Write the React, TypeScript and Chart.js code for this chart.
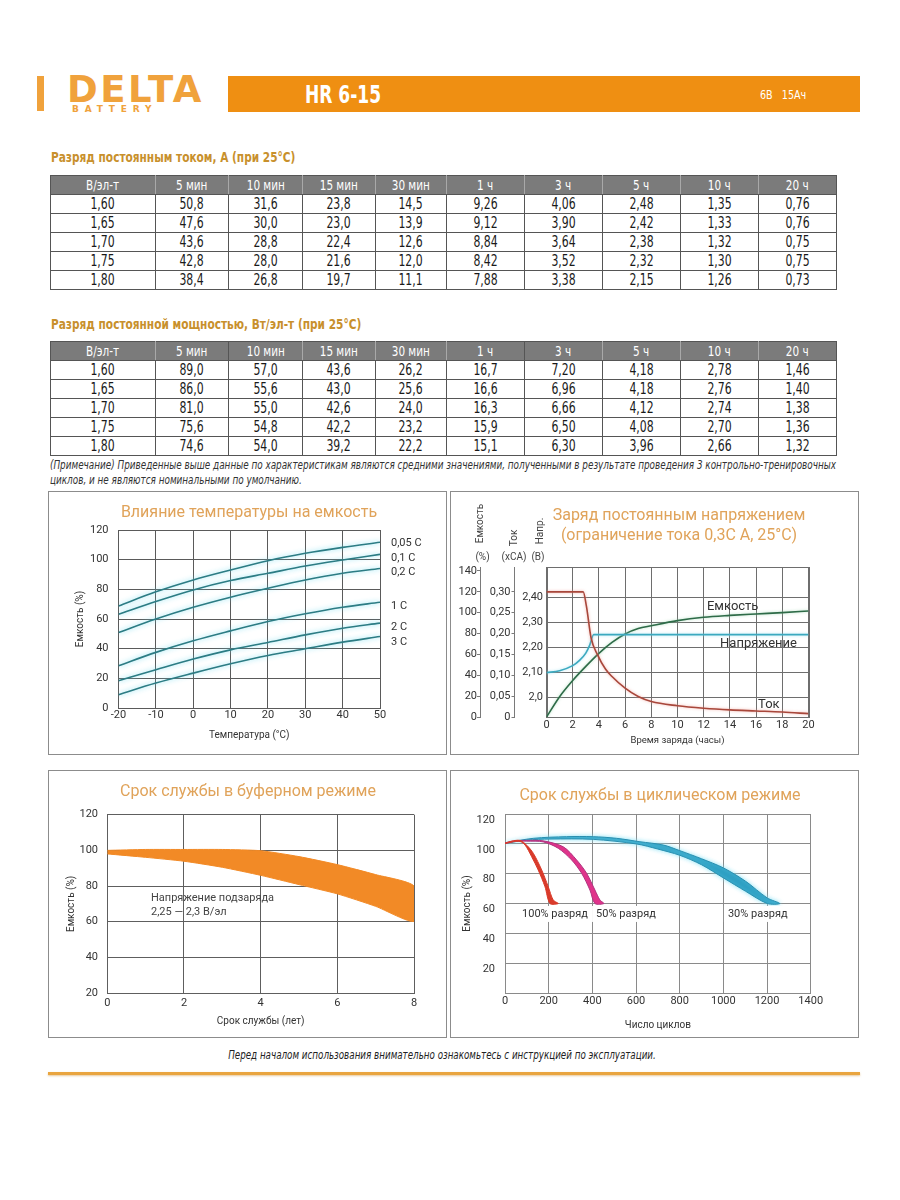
import React, { useEffect, useRef } from 'react';
import { Chart, registerables } from 'chart.js';

// ================= DATA =================
const tableHeaders = ['В/эл-т', '5 мин', '10 мин', '15 мин', '30 мин', '1 ч', '3 ч', '5 ч', '10 ч', '20 ч'];
const endVoltages = ['1,60', '1,65', '1,70', '1,75', '1,80'];
const currentValues = [
  ['50,8', '31,6', '23,8', '14,5', '9,26', '4,06', '2,48', '1,35', '0,76'],
  ['47,6', '30,0', '23,0', '13,9', '9,12', '3,90', '2,42', '1,33', '0,76'],
  ['43,6', '28,8', '22,4', '12,6', '8,84', '3,64', '2,38', '1,32', '0,75'],
  ['42,8', '28,0', '21,6', '12,0', '8,42', '3,52', '2,32', '1,30', '0,75'],
  ['38,4', '26,8', '19,7', '11,1', '7,88', '3,38', '2,15', '1,26', '0,73'],
];
const powerValues = [
  ['89,0', '57,0', '43,6', '26,2', '16,7', '7,20', '4,18', '2,78', '1,46'],
  ['86,0', '55,6', '43,0', '25,6', '16,6', '6,96', '4,18', '2,76', '1,40'],
  ['81,0', '55,0', '42,6', '24,0', '16,3', '6,66', '4,12', '2,74', '1,38'],
  ['75,6', '54,8', '42,2', '23,2', '15,9', '6,50', '4,08', '2,70', '1,36'],
  ['74,6', '54,0', '39,2', '22,2', '15,1', '6,30', '3,96', '2,66', '1,32'],
];

// Chart 1: temperature vs capacity
const tempX = [-20, -10, 0, 10, 20, 30, 40, 50];
const cap005C = [68.8, 78.3, 86.3, 93, 99.3, 104.3, 108.3, 111.7];
const cap01C = [63.2, 71.8, 79.6, 85.9, 90.8, 95.7, 99.8, 103.6];
const cap02C = [50.9, 60, 67.9, 74.7, 80.7, 86.3, 90.8, 94];
const cap1C = [28.5, 37.5, 45.3, 52, 58.3, 63.5, 67.9, 71.3];
const cap2C = [18.4, 25.8, 33, 39.2, 44.2, 49.3, 53.8, 57.2];
const cap3C = [9, 16.8, 23.5, 29.8, 35.4, 39.9, 44.4, 48.2];
const tempSeriesNames = ['0,05 C', '0,1 C', '0,2 C', '1 C', '2 C', '3 C'];
const tempNameLevels = [111.2, 101.1, 91.7, 68.8, 54.6, 44.5];

// Chart 2: constant voltage charge
const chargeCapHours = [0, 1, 2, 3, 4, 5, 6, 7, 8, 10, 12, 14, 16, 18, 20];
const chargeCapValues = [0, 19.5, 35, 48.5, 61, 71.5, 79.6, 84.8, 87.5, 92.4, 95.6, 97.4, 98.8, 100.1, 101.6];
const chargeVoltHours = [0, 1, 2, 2.5, 3, 3.3, 3.6, 20];
const chargeVoltValues = [2.1, 2.108, 2.128, 2.148, 2.178, 2.21, 2.252, 2.252];
const chargeCurHours = [0, 2.8, 3.05, 3.4, 3.9, 4.5, 5, 6, 7, 8, 10, 12, 14, 16, 18, 20];
const chargeCurValues = [0.3, 0.3, 0.265, 0.19, 0.149, 0.115, 0.097, 0.069, 0.049, 0.037, 0.027, 0.021, 0.017, 0.0145, 0.012, 0.008];
const capTicks = [0, 20, 40, 60, 80, 100, 120, 140];
const curTicks = [0, 0.05, 0.1, 0.15, 0.2, 0.25, 0.3];
const voltTicks = [2.0, 2.1, 2.2, 2.3, 2.4];

// Chart 3: float service life
const floatYears = [0, 1, 2, 3, 4, 5, 6, 7, 8];
const floatUpper = [100, 100.5, 100.5, 100.5, 99.8, 96.5, 92, 86.4, 80];
const floatLower = [98, 96.1, 93.9, 90.5, 86, 80.8, 75.6, 68.6, 60.2];

// Chart 4: cycle service life (band edges)
const dod100OuterX = [0, 30, 69, 100, 130, 168, 198, 221, 244];
const dod100OuterY = [100.5, 101.8, 102.3, 99, 93.6, 82.5, 71.3, 62.3, 60];
const dod100InnerX = [0, 40, 69, 92, 122, 152, 183, 206];
const dod100InnerY = [100.2, 101.4, 101.6, 99.2, 91.4, 82.5, 71.3, 60];
const dod50OuterX = [0, 40, 100, 175, 267, 328, 374, 412, 435, 453];
const dod50OuterY = [100.5, 102, 102.3, 102, 98, 89.2, 80.2, 69, 62.3, 60];
const dod50InnerX = [0, 40, 100, 175, 244, 305, 351, 389, 412];
const dod50InnerY = [100.2, 101.6, 101.8, 101.3, 97, 89.2, 80.2, 69, 60];
const dod30OuterX = [0, 130, 282, 404, 511, 618, 725, 801, 900, 1001, 1102, 1201, 1259];
const dod30OuterY = [100.6, 103.7, 104.8, 104.8, 103.7, 101.4, 99.2, 95.4, 90, 83.8, 74.9, 63.7, 60];
const dod30InnerX = [0, 100, 206, 404, 603, 700, 801, 900, 1001, 1102, 1201];
const dod30InnerY = [100.3, 102.5, 103.2, 103, 99.9, 96.5, 92.3, 86, 77.1, 68.2, 60];

// ================= STYLE =================
const NARROW = '"Liberation Sans Narrow", "DejaVu Sans Condensed", "Arial Narrow", sans-serif';
const SANS = 'Roboto, "Open Sans", sans-serif';
const ORANGE = '#ef8f12';
const TITLE_COLOR = '#e0a35a';
const TABLE_TITLE = '#c8902c';
const LOGO = '#f0a23c';
const colWidths = [105, 73, 74, 73, 71, 78, 78, 78, 78, 78];

// ================= PLUGINS =================
const glowPlugin = {
  id: 'glow',
  beforeDatasetDraw(chart: any, args: any) {
    const ds = chart.data.datasets[args.index];
    if (ds && ds.glowColor) {
      chart.ctx.save();
      chart.ctx.shadowColor = ds.glowColor;
      chart.ctx.shadowBlur = ds.glowBlur || 4;
    }
  },
  afterDatasetDraw(chart: any, args: any) {
    const ds = chart.data.datasets[args.index];
    if (ds && ds.glowColor) chart.ctx.restore();
  },
};
Chart.register(glowPlugin as any, ...registerables);
Chart.defaults.font.family = SANS;
Chart.defaults.color = '#333';

type Lbl = {
  text: string; x: number; y: number; xAxis?: string; yAxis?: string; px?: boolean;
  dx?: number; dy?: number; align?: CanvasTextAlign; font?: string; color?: string; rotate?: number; bg?: string;
};

function labelsPlugin(items: Lbl[]) {
  return {
    id: 'textLabels',
    afterDraw(chart: any) {
      const ctx = chart.ctx;
      for (const it of items) {
        let x = it.px ? it.x : chart.scales[it.xAxis || 'x'].getPixelForValue(it.x);
        let y = it.px ? it.y : chart.scales[it.yAxis || 'y'].getPixelForValue(it.y);
        x += it.dx || 0;
        y += it.dy || 0;
        ctx.save();
        ctx.font = it.font || `11px ${SANS}`;
        ctx.textAlign = it.align || 'left';
        ctx.textBaseline = 'middle';
        ctx.translate(x, y);
        if (it.rotate) ctx.rotate(it.rotate);
        if (it.bg) {
          const w = ctx.measureText(it.text).width;
          const x0 = it.align === 'center' ? -w / 2 : it.align === 'right' ? -w : 0;
          ctx.fillStyle = it.bg;
          ctx.fillRect(x0 - 4, -8, w + 8, 16);
        }
        ctx.fillStyle = it.color || '#333';
        ctx.fillText(it.text, 0, 0);
        ctx.restore();
      }
    },
  };
}

function framePlugin(color: string) {
  return {
    id: 'frame',
    beforeDatasetsDraw(chart: any) {
      const { left, top, right, bottom } = chart.chartArea;
      const ctx = chart.ctx;
      ctx.save();
      ctx.strokeStyle = color;
      ctx.lineWidth = 1;
      ctx.strokeRect(Math.round(left) + 0.5, Math.round(top) + 0.5, Math.round(right - left), Math.round(bottom - top));
      ctx.restore();
    },
  };
}

const pts = (xs: number[], ys: number[]) => xs.map((x, i) => ({ x, y: ys[i] }));
const polygon = (ox: number[], oy: number[], ix: number[], iy: number[]) => {
  const p = pts(ox, oy);
  for (let i = ix.length - 1; i >= 0; i--) p.push({ x: ix[i], y: iy[i] });
  return p;
};
const comma = (v: number, d: number) => v.toFixed(d).replace('.', ',');

const baseOptions = (padding: any) => ({
  animation: false,
  responsive: false,
  events: [],
  layout: { padding },
  plugins: { legend: { display: false }, tooltip: { enabled: false } },
});

// ================= CHART CONFIGS =================
function tempConfig(): any {
  const GRID = '#5a5a5a';
  const series = [cap005C, cap01C, cap02C, cap1C, cap2C, cap3C];
  return {
    type: 'line',
    data: {
      datasets: series.map((s, i) => ({
        label: tempSeriesNames[i],
        data: pts(tempX, s),
        borderColor: '#2c7c84',
        borderWidth: 1.6,
        pointRadius: 0,
        fill: false,
        tension: 0.4,
        cubicInterpolationMode: 'monotone',
        glowColor: 'rgba(110,220,240,0.9)',
        glowBlur: 5,
      })),
    },
    options: {
      ...baseOptions({ left: 0, top: 38, right: 66, bottom: 0 }),
      scales: {
        x: {
          type: 'linear', min: -20, max: 50,
          ticks: { stepSize: 10, padding: 1, maxRotation: 0, font: { size: 11 }, color: '#333' },
          grid: { color: GRID, drawTicks: false },
          border: { color: GRID },
          title: { display: true, text: 'Температура (°C)', font: { size: 10 }, color: '#333', padding: { top: 0, bottom: 12.5 } },
          afterFit: (s: any) => { s.height = 46; },
        },
        y: {
          min: 0, max: 120,
          ticks: { stepSize: 20, padding: 10, font: { size: 11 }, color: '#333' },
          grid: { color: GRID, drawTicks: false },
          border: { color: GRID },
          title: { display: true, text: 'Емкость (%)', font: { size: 10 }, color: '#333', padding: { top: 25, bottom: 0 } },
          afterFit: (s: any) => { s.width = 69.5; },
        },
      },
    },
    plugins: [
      labelsPlugin(tempSeriesNames.map((n, i) => ({ text: n, x: 50, dx: 11, y: tempNameLevels[i], font: `11px ${SANS}` }))),
    ],
  };
}

function chargeConfig(): any {
  const GRID = '#6e6e6e';
  const AX = '#7a7a7a';
  const hdr = `10px ${SANS}`;
  return {
    type: 'line',
    data: {
      datasets: [
        { label: 'Ток', data: pts(chargeCurHours, chargeCurValues), yAxisID: 'yCur', borderColor: '#a8473b', borderWidth: 1.6, pointRadius: 0, fill: false, tension: 0.4, cubicInterpolationMode: 'monotone', glowColor: 'rgba(240,150,140,0.7)', glowBlur: 3 },
        { label: 'Напряжение', data: pts(chargeVoltHours, chargeVoltValues), yAxisID: 'yV', borderColor: '#3ca9bf', borderWidth: 1.6, pointRadius: 0, fill: false, tension: 0.4, cubicInterpolationMode: 'monotone', glowColor: 'rgba(140,220,240,0.7)', glowBlur: 3 },
        { label: 'Емкость', data: pts(chargeCapHours, chargeCapValues), yAxisID: 'yCap', borderColor: '#2e6b48', borderWidth: 1.6, pointRadius: 0, fill: false, tension: 0.4, cubicInterpolationMode: 'monotone', glowColor: 'rgba(150,210,170,0.7)', glowBlur: 3 },
      ],
    },
    options: {
      ...baseOptions({ left: 0, top: 75, right: 49.5, bottom: 0 }),
      scales: {
        x: {
          type: 'linear', min: 0, max: 20,
          ticks: { stepSize: 2, padding: 1.4, maxRotation: 0, font: { size: 11 }, color: '#333' },
          grid: { color: GRID, drawTicks: false },
          border: { color: GRID },
          title: { display: true, text: 'Время заряда (часы)', font: { size: 9.5 }, color: '#333', padding: { top: 0, bottom: 8 } },
          afterFit: (s: any) => { s.height = 37; },
        },
        yV: {
          position: 'left', weight: 0, min: 1.923, max: 2.522,
          afterBuildTicks: (s: any) => { s.ticks = voltTicks.map((v) => ({ value: v })); },
          ticks: { padding: 3.5, font: { size: 11 }, color: '#333', callback: (v: number) => (v === 2 ? '2,0' : comma(v, 2)) },
          grid: { color: GRID, drawTicks: false },
          border: { display: false },
          afterFit: (s: any) => { s.width = 32; },
        },
        yCur: {
          position: 'left', weight: 1, min: 0, max: 0.3595,
          afterBuildTicks: (s: any) => { s.ticks = curTicks.map((v) => ({ value: v })); },
          ticks: { padding: 1, font: { size: 11 }, color: '#333', callback: (v: number) => (v === 0 ? '0' : comma(v, 2)) },
          grid: { drawOnChartArea: false, drawTicks: true, tickLength: 3, color: AX },
          border: { color: AX },
          afterFit: (s: any) => { s.width = 34.5; },
        },
        yCap: {
          position: 'left', weight: 2, min: 0, max: 143.8,
          afterBuildTicks: (s: any) => { s.ticks = capTicks.map((v) => ({ value: v })); },
          ticks: { padding: 0, font: { size: 11 }, color: '#333' },
          grid: { drawOnChartArea: false, drawTicks: true, tickLength: 3, color: AX },
          border: { color: AX },
          afterFit: (s: any) => { s.width = 29; },
        },
      },
    },
    plugins: [
      framePlugin(GRID),
      labelsPlugin([
        { text: 'Емкость', x: 12.25, y: 105.5, yAxis: 'yCap', font: `13px ${SANS}` },
        { text: 'Напряжение', x: 13.25, y: 70, yAxis: 'yCap', font: `13px ${SANS}` },
        { text: 'Ток', x: 16.15, y: 11.5, yAxis: 'yCap', font: `13px ${SANS}` },
        { text: 'Емкость', px: true, x: 29, y: 31.5, rotate: -Math.PI / 2, align: 'center', font: hdr, color: '#444' },
        { text: 'Ток', px: true, x: 63, y: 46, rotate: -Math.PI / 2, align: 'center', font: hdr, color: '#444' },
        { text: 'Напр.', px: true, x: 89, y: 39, rotate: -Math.PI / 2, align: 'center', font: hdr, color: '#444' },
        { text: '(%)', px: true, x: 31.5, y: 65, align: 'center', font: hdr, color: '#444' },
        { text: '(xCA)', px: true, x: 63, y: 65, align: 'center', font: hdr, color: '#444' },
        { text: '(В)', px: true, x: 87, y: 65, align: 'center', font: hdr, color: '#444' },
      ]),
    ],
  };
}

function floatConfig(): any {
  const GRID = '#5e5e5e';
  return {
    type: 'line',
    data: {
      datasets: [
        {
          label: 'Емкость',
          data: polygon(floatYears, floatUpper, floatYears, floatLower),
          fill: 'shape',
          backgroundColor: '#f28a26',
          borderColor: '#f28a26',
          borderWidth: 1,
          pointRadius: 0,
          tension: 0.2,
        },
      ],
    },
    options: {
      ...baseOptions({ left: 0, top: 43.7, right: 32, bottom: 0 }),
      scales: {
        x: {
          type: 'linear', min: 0, max: 8,
          ticks: { stepSize: 2, padding: 3.4, maxRotation: 0, font: { size: 11 }, color: '#333' },
          grid: { color: GRID, drawTicks: false },
          border: { color: GRID },
          title: { display: true, text: 'Срок службы (лет)', font: { size: 10 }, color: '#333', padding: { top: 0, bottom: 10 } },
          afterFit: (s: any) => { s.height = 44; },
        },
        y: {
          min: 20, max: 120,
          ticks: { stepSize: 20, padding: 9.3, font: { size: 11 }, color: '#333' },
          grid: { color: GRID, drawTicks: false },
          border: { color: GRID },
          title: { display: true, text: 'Емкость (%)', font: { size: 10 }, color: '#333', padding: { top: 16, bottom: 0 } },
          afterFit: (s: any) => { s.width = 58.3; },
        },
      },
    },
    plugins: [
      labelsPlugin([
        { text: 'Напряжение подзаряда', x: 1.14, y: 73.4, font: `11px ${SANS}`, color: '#444' },
        { text: '2,25 — 2,3 В/эл', x: 1.14, y: 65.5, font: `11px ${SANS}`, color: '#444' },
      ]),
    ],
  };
}

function cycleConfig(): any {
  const GRID = '#8a8a8a';
  return {
    type: 'line',
    data: {
      datasets: [
        { label: '100% разряд', data: polygon(dod100OuterX, dod100OuterY, dod100InnerX, dod100InnerY), fill: 'shape', backgroundColor: '#d93b2b', borderColor: '#d93b2b', borderWidth: 1, pointRadius: 0, tension: 0.3 },
        { label: '50% разряд', data: polygon(dod50OuterX, dod50OuterY, dod50InnerX, dod50InnerY), fill: 'shape', backgroundColor: '#e0338a', borderColor: '#b03580', borderWidth: 1, pointRadius: 0, tension: 0.3 },
        { label: '30% разряд', data: polygon(dod30OuterX, dod30OuterY, dod30InnerX, dod30InnerY), fill: 'shape', backgroundColor: '#2b9ec2', borderColor: '#2a8fb0', borderWidth: 1, pointRadius: 0, tension: 0.3, glowColor: 'rgba(130,225,245,0.9)', glowBlur: 4 },
      ],
    },
    options: {
      ...baseOptions({ left: 0, top: 43, right: 47.3, bottom: 0 }),
      scales: {
        x: {
          type: 'linear', min: 0, max: 1400,
          ticks: { stepSize: 200, padding: 1.4, maxRotation: 0, font: { size: 11 }, color: '#333', callback: (v: number) => String(v) },
          grid: { color: GRID, drawTicks: false },
          border: { color: GRID },
          title: { display: true, text: 'Число циклов', font: { size: 10 }, color: '#333', padding: { top: 0, bottom: 6 } },
          afterFit: (s: any) => { s.height = 44; },
        },
        y: {
          min: 0, max: 120,
          ticks: { stepSize: 20, padding: 10, labelOffset: 6, font: { size: 11 }, color: '#333', callback: (v: number) => (v === 0 ? '' : String(v)) },
          grid: { color: GRID, drawTicks: false },
          border: { color: GRID },
          title: { display: true, text: 'Емкость (%)', font: { size: 10 }, color: '#333', padding: { top: 10, bottom: 0 } },
          afterFit: (s: any) => { s.width = 54; },
        },
      },
    },
    plugins: [
      labelsPlugin([
        { text: '100% разряд', x: 78, y: 53, font: `11px ${SANS}`, bg: '#ffffff' },
        { text: '50% разряд', x: 417, y: 53, font: `11px ${SANS}`, bg: '#ffffff' },
        { text: '30% разряд', x: 1021, y: 53, font: `11px ${SANS}`, bg: '#ffffff' },
      ]),
    ],
  };
}

// ================= COMPONENTS =================
function ChartCanvas({ left, top, width, height, make }: any) {
  const ref = useRef<HTMLCanvasElement>(null);
  useEffect(() => {
    const chart = new Chart(ref.current as HTMLCanvasElement, make());
    return () => chart.destroy();
  }, []);
  return (
    <canvas
      ref={ref}
      width={width}
      height={height}
      style={{ position: 'absolute', left, top, width, height }}
    />
  );
}

function Box({ left, top, width, height }: any) {
  return (
    <div
      style={{
        position: 'absolute', left, top, width, height, boxSizing: 'border-box',
        border: '1px solid #8c8c8c', background: '#fff',
      }}
    />
  );
}

function ChartTitle({ cx, cy, lines }: any) {
  return (
    <div
      style={{
        position: 'absolute', left: cx - 200, top: cy - 10 * lines.length, width: 400, textAlign: 'center',
        fontFamily: SANS, fontSize: 16, lineHeight: '20px', color: TITLE_COLOR, whiteSpace: 'nowrap',
      }}
    >
      {lines.map((l: string, i: number) => (
        <div key={i}>{l}</div>
      ))}
    </div>
  );
}

const Squeeze = ({ k, children }: any) => (
  <span style={{ display: 'inline-block', transform: `scaleX(${k})`, whiteSpace: 'nowrap' }}>{children}</span>
);

function DataTable({ top, rows, darkHeaderCells }: any) {
  const headBorder = '1px solid #a9a9a9';
  const dark = '1px solid #555';
  return (
    <table
      style={{
        position: 'absolute', left: 50, top, width: 786, borderCollapse: 'collapse', tableLayout: 'fixed',
        fontFamily: NARROW,
      }}
    >
      <colgroup>
        {colWidths.map((w, i) => (
          <col key={i} style={{ width: w }} />
        ))}
      </colgroup>
      <thead>
        <tr>
          {tableHeaders.map((h, i) => {
            const isDark = darkHeaderCells && darkHeaderCells.includes(i);
            return (
              <th
                key={i}
                style={{
                  height: 18, padding: 0, lineHeight: '18px', background: '#7b7b7b', color: '#fff',
                  fontWeight: 'normal', fontSize: 14.5, textAlign: 'center', overflow: 'hidden',
                  borderTop: dark, borderBottom: dark,
                  borderLeft: i === 0 || isDark ? dark : headBorder,
                  borderRight: i === tableHeaders.length - 1 || isDark ? dark : headBorder,
                }}
              >
                <Squeeze k={0.8}>{h}</Squeeze>
              </th>
            );
          })}
        </tr>
      </thead>
      <tbody>
        {rows.map((r: string[], ri: number) => (
          <tr key={ri}>
            {[endVoltages[ri], ...r].map((c, ci) => (
              <td
                key={ci}
                style={{
                  height: 18, padding: 0, lineHeight: '18px', border: dark, textAlign: 'center',
                  fontSize: 15.5, color: '#1a1a1a', overflow: 'hidden',
                }}
              >
                <Squeeze k={0.78}>{c}</Squeeze>
              </td>
            ))}
          </tr>
        ))}
      </tbody>
    </table>
  );
}

export default function App() {
  const squeezeLeft = (k: number) => ({ transform: `scaleX(${k})`, transformOrigin: 'left center' });
  return (
    <div style={{ position: 'absolute', left: 0, top: 0, width: 900, height: 1200, background: '#fff', overflow: 'hidden' }}>
      {/* Header */}
      <div style={{ position: 'absolute', left: 37, top: 76, width: 7, height: 35, background: LOGO }} />
      <div
        style={{
          position: 'absolute', left: 67, top: 71, fontFamily: '"DejaVu Sans", sans-serif', fontWeight: 'bold',
          fontSize: 37, lineHeight: '38px', color: LOGO, letterSpacing: 2.5,
        }}
      >
        DELTA
      </div>
      <div
        style={{
          position: 'absolute', left: 72, top: 104, fontFamily: '"DejaVu Sans", sans-serif', fontSize: 9,
          fontWeight: 'bold', lineHeight: '11px', letterSpacing: 5.8, color: LOGO,
        }}
      >
        BATTERY
      </div>
      <div style={{ position: 'absolute', left: 228, top: 76, width: 632, height: 36, background: ORANGE }} />
      <div
        style={{
          position: 'absolute', left: 305, top: 81, fontFamily: NARROW, fontWeight: 'bold', fontSize: 24,
          lineHeight: '28px', color: '#fff', whiteSpace: 'nowrap', ...squeezeLeft(0.79),
        }}
      >
        HR 6-15
      </div>
      <div
        style={{
          position: 'absolute', left: 760, top: 87, fontFamily: NARROW, fontSize: 13, lineHeight: '16px',
          color: '#fff', whiteSpace: 'pre', ...squeezeLeft(0.82),
        }}
      >
        {'6В   15Ач'}
      </div>

      {/* Table 1 */}
      <div
        style={{
          position: 'absolute', left: 51, top: 149, fontFamily: NARROW, fontWeight: 'bold', fontSize: 13.5,
          lineHeight: '16px', color: TABLE_TITLE, whiteSpace: 'nowrap', ...squeezeLeft(0.87),
        }}
      >
        Разряд постоянным током, А (при 25°С)
      </div>
      <DataTable top={175} rows={currentValues} />

      {/* Table 2 */}
      <div
        style={{
          position: 'absolute', left: 51, top: 316, fontFamily: NARROW, fontWeight: 'bold', fontSize: 13.5,
          lineHeight: '16px', color: TABLE_TITLE, whiteSpace: 'nowrap', ...squeezeLeft(0.87),
        }}
      >
        Разряд постоянной мощностью, Вт/эл-т (при 25°С)
      </div>
      <DataTable top={341} rows={powerValues} darkHeaderCells={[1, 5]} />
      <div
        style={{
          position: 'absolute', left: 50, top: 458, fontFamily: NARROW, fontStyle: 'italic', fontSize: 11.5,
          lineHeight: '15px', color: '#333', whiteSpace: 'nowrap', ...squeezeLeft(0.855),
        }}
      >
        (Примечание) Приведенные выше данные по характеристикам являются средними значениями, полученными в результате проведения 3 контрольно-тренировочных
        <br />
        циклов, и не являются номинальными по умолчанию.
      </div>

      {/* Chart boxes */}
      <Box left={48} top={491} width={399} height={264} />
      <Box left={450} top={491} width={409} height={264} />
      <Box left={48} top={770} width={399} height={268} />
      <Box left={450} top={770} width={409} height={268} />

      <ChartCanvas left={49} top={492} width={397} height={262} make={tempConfig} />
      <ChartCanvas left={451} top={492} width={407} height={262} make={chargeConfig} />
      <ChartCanvas left={49} top={771} width={397} height={266} make={floatConfig} />
      <ChartCanvas left={451} top={771} width={407} height={266} make={cycleConfig} />

      <ChartTitle cx={249} cy={512} lines={['Влияние температуры на емкость']} />
      <ChartTitle cx={679} cy={525} lines={['Заряд постоянным напряжением', '(ограничение тока 0,3С А, 25°С)']} />
      <ChartTitle cx={248} cy={791} lines={['Срок службы в буферном режиме']} />
      <ChartTitle cx={660} cy={795} lines={['Срок службы в циклическом режиме']} />

      {/* Footer */}
      <div
        style={{
          position: 'absolute', left: 0, top: 1047, width: 884, textAlign: 'center', fontFamily: NARROW,
          fontStyle: 'italic', fontSize: 12, lineHeight: '16px', color: '#222',
          transform: 'scaleX(0.81)', transformOrigin: '442px 50%', whiteSpace: 'nowrap',
        }}
      >
        Перед началом использования внимательно ознакомьтесь с инструкцией по эксплуатации.
      </div>
      <div
        style={{
          position: 'absolute', left: 48, top: 1072, width: 812, height: 3, background: '#e9a53f',
          boxShadow: '0 1px 2px rgba(210,150,60,0.5)',
        }}
      />
    </div>
  );
}
